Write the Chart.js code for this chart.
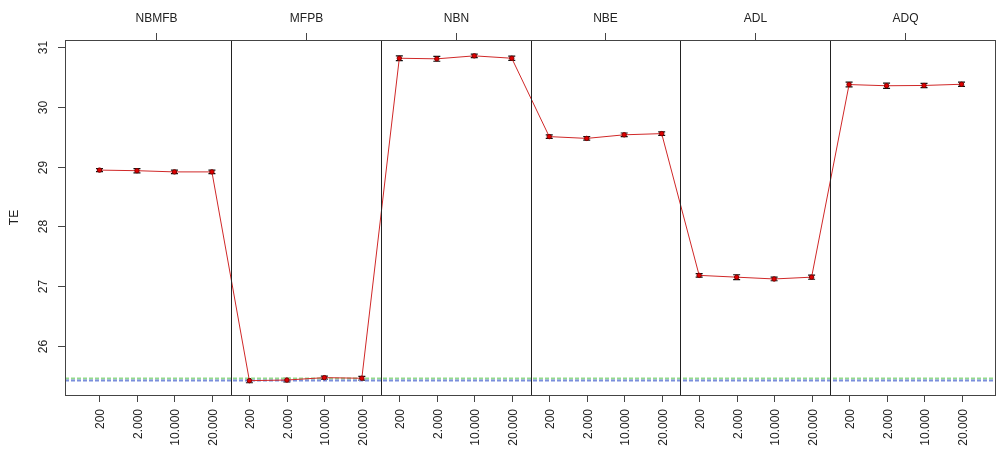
<!DOCTYPE html>
<html>
<head>
<meta charset="utf-8">
<script src="https://cdn.jsdelivr.net/npm/chart.js@4/dist/chart.umd.min.js"></script>
<style>
  html, body { margin: 0; padding: 0; background: #fff; }
  #c { display: block; }
</style>
</head>
<body>
<canvas id="c" width="1001" height="456"></canvas>
<script>
// Methods (panels) and the sample sizes evaluated within each one
const panels = ["NBMFB", "MFPB", "NBN", "NBE", "ADL", "ADQ"];
const sizeLabels = ["200", "2.000", "10.000", "20.000"];

// Mean TE per method and sample size, in panel order
const teMean = [
  28.94, 28.93, 28.91, 28.91,
  25.42, 25.43, 25.47, 25.46,
  30.81, 30.80, 30.85, 30.81,
  29.50, 29.47, 29.53, 29.55,
  27.18, 27.15, 27.12, 27.15,
  30.37, 30.35, 30.355, 30.375
];
// Half-width of each interval
const teErr = [
  0.025, 0.035, 0.03, 0.03,
  0.035, 0.03, 0.025, 0.03,
  0.04, 0.04, 0.03, 0.035,
  0.03, 0.03, 0.03, 0.03,
  0.03, 0.04, 0.03, 0.035,
  0.04, 0.045, 0.035, 0.035
];
// Reference levels shown as dashed lines
const refGreen = 25.455;
const refBlue = 25.423;

const yTicks = [26, 27, 28, 29, 30, 31];

const nPer = sizeLabels.length;
const n = panels.length * nPer;
const xs = teMean.map((_, i) => i + 1);
const xMin = 1 - 0.04 * (n - 1);
const xMax = n + 0.04 * (n - 1);

const FONT = '12px "Liberation Sans", Arial, sans-serif';
const TXT = '#222';

const framePlugin = {
  id: 'frame',
  beforeDatasetsDraw(chart) {
    const { ctx, scales: { x, y } } = chart;
    ctx.save();
    // interval bars
    ctx.strokeStyle = '#111';
    ctx.lineWidth = 1.2;
    teMean.forEach((m, i) => {
      const px = x.getPixelForValue(xs[i]);
      const lo = y.getPixelForValue(m - teErr[i]);
      const hi = y.getPixelForValue(m + teErr[i]);
      ctx.beginPath();
      ctx.moveTo(px, lo); ctx.lineTo(px, hi);
      ctx.moveTo(px - 3.5, lo); ctx.lineTo(px + 3.5, lo);
      ctx.moveTo(px - 3.5, hi); ctx.lineTo(px + 3.5, hi);
      ctx.stroke();
    });
    ctx.restore();
  },
  afterDraw(chart) {
    const { ctx, chartArea: a, scales: { x, y } } = chart;
    ctx.save();
    // panel separators
    ctx.strokeStyle = '#222';
    ctx.lineWidth = 1;
    for (let p = 1; p < panels.length; p++) {
      const px = Math.round(x.getPixelForValue(p * nPer + 0.5)) + 0.5;
      ctx.beginPath(); ctx.moveTo(px, a.top); ctx.lineTo(px, a.bottom); ctx.stroke();
    }
    // plot box
    ctx.strokeStyle = '#444';
    ctx.strokeRect(Math.round(a.left) + 0.5, Math.round(a.top) + 0.5,
                   Math.round(a.right - a.left) - 1, Math.round(a.bottom - a.top));

    ctx.fillStyle = TXT;
    ctx.font = FONT;
    // y axis ticks and rotated labels
    yTicks.forEach(v => {
      const py = Math.round(y.getPixelForValue(v)) + 0.5;
      ctx.beginPath(); ctx.moveTo(a.left, py); ctx.lineTo(a.left - 7, py); ctx.stroke();
      ctx.save();
      ctx.translate(44, py);
      ctx.rotate(-Math.PI / 2);
      ctx.textAlign = 'center'; ctx.textBaseline = 'middle';
      ctx.fillText(String(v), 0, 0);
      ctx.restore();
    });
    // bottom axis ticks and vertical labels
    xs.forEach((v, i) => {
      const px = Math.round(x.getPixelForValue(v)) + 0.5;
      ctx.beginPath(); ctx.moveTo(px, a.bottom); ctx.lineTo(px, a.bottom + 7); ctx.stroke();
      ctx.save();
      ctx.translate(px + 1, a.bottom + 14);
      ctx.rotate(-Math.PI / 2);
      ctx.textAlign = 'right'; ctx.textBaseline = 'middle';
      ctx.fillText(sizeLabels[i % nPer], 0, 0);
      ctx.restore();
    });
    // top axis: panel names
    panels.forEach((name, p) => {
      const px = Math.round(x.getPixelForValue(p * nPer + (nPer + 1) / 2)) + 0.5;
      ctx.beginPath(); ctx.moveTo(px, a.top); ctx.lineTo(px, a.top - 7); ctx.stroke();
      ctx.textAlign = 'center'; ctx.textBaseline = 'middle';
      ctx.fillText(name, px, 19);
    });
    // y axis title
    ctx.save();
    ctx.translate(15, (a.top + a.bottom) / 2);
    ctx.rotate(-Math.PI / 2);
    ctx.textAlign = 'center'; ctx.textBaseline = 'middle';
    ctx.fillText('TE', 0, 0);
    ctx.restore();
    ctx.restore();
  }
};

const refLine = (v, color) => ({
  data: [{ x: xMin, y: v }, { x: xMax, y: v }],
  showLine: true,
  borderColor: color,
  borderWidth: 2,
  borderDash: [4, 2],
  pointRadius: 0,
  fill: false
});

new Chart(document.getElementById('c'), {
  type: 'scatter',
  data: {
    datasets: [
      {
        data: teMean.map((v, i) => ({ x: xs[i], y: v })),
        showLine: true,
        borderColor: '#d02828',
        borderWidth: 1,
        pointRadius: 2.2,
        pointBackgroundColor: '#e00000',
        pointBorderColor: '#800000',
        pointBorderWidth: 1
      },
      refLine(refBlue, '#7b8fdc'),
      refLine(refGreen, '#93dc8c')
    ]
  },
  options: {
    responsive: false,
    animation: false,
    layout: { padding: { left: 65, right: 3, top: 40, bottom: 61 } },
    plugins: { legend: { display: false }, tooltip: { enabled: false } },
    scales: {
      x: { type: 'linear', display: false, min: xMin, max: xMax },
      y: { type: 'linear', display: false, min: 25.18, max: 31.115 }
    }
  },
  plugins: [framePlugin]
});
</script>
</body>
</html>
